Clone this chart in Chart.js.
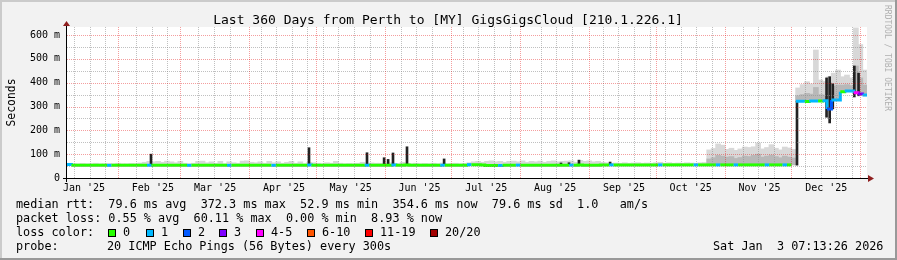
<!DOCTYPE html>
<html>
<head>
<meta charset="utf-8">
<script src="https://cdn.jsdelivr.net/npm/chart.js@4/dist/chart.umd.min.js"></script>
<style>
  body { margin: 0; background: #f2f2f2; }
  canvas { display: block; }
</style>
</head>
<body>
<canvas id="ping" width="897" height="260"></canvas>
<script>
// x axis is in days since the start of the 360 day window, y is milliseconds
var monthLabels = ["Jan '25", "Feb '25", "Mar '25", "Apr '25", "May '25", "Jun '25",
                   "Jul '25", "Aug '25", "Sep '25", "Oct '25", "Nov '25", "Dec '25"];
var monthStartDay = [-8.05, 22.95, 50.95, 81.95, 111.95, 142.95, 172.95,
                     203.95, 234.95, 264.95, 295.95, 325.95, 356.95];
var yTicks = [0, 100, 200, 300, 400, 500, 600];

// one value per 2 day slot (180 slots)
var median = [
  57,54,53,53,53,53,53,53,53,53, 53,53,53,53,53,53,53,53,53,54,
  53,53,53,53,53,53,53,53,53,53, 53,53,53,53,53,53,53,53,53,53,
  53,53,53,54,53,53,53,53,53,53, 53,53,53,53,55,53,53,53,53,53,
  53,53,53,53,53,53,53,54,53,53, 53,54,54,55,53,53,55,53,53,53,
  53,53,53,53,54,53,53,53,53,54, 56,56,56,55,52,52,52,52,53,54,
  54,54,54,54,54,54,54,54,54,54, 54,54,54,54,54,55,54,54,54,54,
  55,55,55,55,55,55,55,55,55,55, 55,55,55,55,55,55,55,55,55,55,
  55,55,55,55,55,55,55,55,55,55, 55,55,55,55,55,55,55,55,55,55,
  55,55,55,55,322,322,321,323,323,323, 324,290,327,327,362,365,365,358,352,348
];
var smokeTop = [
  62,60,60,61,60,60,62,60,60,61, 60,62,60,60,61,60,63,66,70,68,
  70,66,71,68,64,70,62,60,62,70, 71,64,68,62,70,60,68,64,62,71,
  72,66,64,68,62,70,64,68,62,66, 70,62,68,60,66,64,62,60,64,62,
  70,62,60,61,60,62,66,60,63,62, 62,60,64,62,60,66,62,60,62,60,
  61,60,62,60,63,60,61,62,60,61, 64,68,70,66,70,72,68,70,66,70,
  71,68,72,66,70,68,71,66,70,72, 68,70,71,72,66,74,70,72,68,70,
  66,64,62,63,62,64,62,63,64,62, 63,62,64,66,62,64,62,63,62,64,
  63,62,64,65,118,124,143,138,120,125, 116,122,130,128,131,147,122,128,140,125,
  118,130,126,120,378,392,404,395,537,411, 405,425,440,453,425,432,420,630,560,453
];
// denser smoke close to the median, from slot 144 on
var coreFrom = 144;
var coreTop = [
  80,85,95,92,88,90,82,86,92,90, 95,100,88,92,96,90,85,92,88,84,
  345,350,355,352,380,350,348,400,385,390, 390,392,388,470,420,390
];
// narrow dark spikes
var spikeDay  = [37.8, 108.9, 135.0, 142.7, 144.5, 146.7, 153.0, 169.7, 222.3, 225.9, 230.4, 244.4,
                 328.5, 341.8, 343.2, 344.6, 354.3, 356.2];
var spikeLow  = [56, 56, 56, 56, 56, 56, 56, 56, 56, 56, 56, 56, 54, 255, 231, 290, 340, 345];
var spikeHigh = [100, 127, 106, 85, 78, 105, 131, 80, 63, 64, 75, 67, 322, 420, 425, 395, 470, 440];

// slots with packet loss (index into lossColors), all others are 0
var lossSlot  = [0, 9, 18, 27, 36, 46, 54, 67, 73, 84, 90, 97, 101, 113, 122, 133, 141, 146, 150, 157, 161,
                 164, 165, 167, 168, 170, 171, 172, 173, 175, 176, 177, 178, 179];
var lossLevel = [1, 1, 1, 1, 1, 1, 1, 1, 1, 1, 1, 1, 1, 1, 1, 1, 1, 1, 1, 1, 1,
                 1, 1, 1, 1, 1, 2, 1, 1, 1, 1, 4, 3, 1];
var lossNames  = ['0', '1', '2', '3', '4-5', '6-10', '11-19', '20/20'];
var lossColors = ['#26ff00', '#00b8ff', '#0059ff', '#7e00ff', '#ff00ff', '#ff5500', '#ff0000', '#a10000'];

var SLOT = 2;
var MONO = '"DejaVu Sans Mono"';

var loss = median.map(function () { return 0; });
lossSlot.forEach(function (s, i) { loss[s] = lossLevel[i]; });

var smokeData = smokeTop.map(function (top, i) {
  return {x: i * SLOT + SLOT / 2, y: [median[i], top]};
});
var coreData = coreTop.map(function (top, i) {
  var s = coreFrom + i;
  return {x: s * SLOT + SLOT / 2, y: [median[s], top]};
});
var spikeData = spikeDay.map(function (d, i) {
  return {x: d, y: [spikeLow[i], spikeHigh[i]]};
});
var medianData = median.map(function (v, i) { return {x: i * SLOT, y: v}; });
medianData.push({x: median.length * SLOT, y: median[median.length - 1]});

// background, rrdtool style grid (drawn over the data), axes and all the text
var rrdLook = {
  id: 'rrdLook',
  beforeDraw: function (chart) {
    var ctx = chart.ctx, a = chart.chartArea, W = chart.width, H = chart.height;
    ctx.save();
    ctx.fillStyle = '#f2f2f2';
    ctx.fillRect(0, 0, W, H);
    ctx.fillStyle = '#cbcbcb';
    ctx.fillRect(0, 0, W, 2);
    ctx.fillRect(0, 0, 2, H);
    ctx.fillStyle = '#999999';
    ctx.fillRect(0, H - 2, W, 2);
    ctx.fillRect(W - 2, 0, 2, H);
    ctx.fillStyle = '#ffffff';
    ctx.fillRect(a.left, a.top, a.right - a.left, a.bottom - a.top);
    ctx.restore();
  },
  afterDatasetsDraw: function (chart) {
    var ctx = chart.ctx, a = chart.chartArea;
    var sx = chart.scales.x, sy = chart.scales.y;
    ctx.save();
    ctx.lineWidth = 1;
    ctx.setLineDash([1, 1]);

    function vline(day, color) {
      var px = Math.round(sx.getPixelForValue(day)) + 0.5;
      if (px < a.left + 1 || px > a.right) return;
      ctx.strokeStyle = color;
      ctx.beginPath(); ctx.moveTo(px, a.top); ctx.lineTo(px, a.bottom); ctx.stroke();
    }
    function hline(v, color) {
      var py = Math.round(sy.getPixelForValue(v)) + 0.5;
      ctx.strokeStyle = color;
      ctx.beginPath(); ctx.moveTo(a.left, py); ctx.lineTo(a.right, py); ctx.stroke();
    }

    // weekly minor lines, skipped next to a month line
    for (var d = 3.15; d < 360; d += 7) {
      var near = monthStartDay.some(function (m) { return Math.abs(m - d) < 2.5; });
      if (!near) vline(d, 'rgba(140,140,140,0.55)');
    }
    for (var v = 50; v <= 600; v += 100) hline(v, 'rgba(140,140,140,0.55)');
    monthStartDay.forEach(function (m) { vline(m, 'rgba(225,0,0,0.38)'); });
    for (v = 100; v <= 600; v += 100) hline(v, 'rgba(225,0,0,0.38)');

    // axes with arrows
    ctx.setLineDash([]);
    ctx.strokeStyle = '#000000';
    var ax = a.left - 0.5, ay = a.bottom + 0.5;
    ctx.beginPath(); ctx.moveTo(ax, ay + 3.5); ctx.lineTo(ax, a.top - 1); ctx.stroke();
    ctx.beginPath(); ctx.moveTo(a.left - 4, ay); ctx.lineTo(a.right + 2, ay); ctx.stroke();
    ctx.fillStyle = '#8f1f1f';
    ctx.beginPath();
    ctx.moveTo(ax - 3.5, a.top - 1); ctx.lineTo(ax + 3.5, a.top - 1); ctx.lineTo(ax, a.top - 6);
    ctx.closePath(); ctx.fill();
    ctx.beginPath();
    ctx.moveTo(a.right + 1, ay - 3.5); ctx.lineTo(a.right + 1, ay + 3.5); ctx.lineTo(a.right + 7, ay);
    ctx.closePath(); ctx.fill();
    ctx.restore();
  },
  afterDraw: function (chart) {
    var ctx = chart.ctx, a = chart.chartArea;
    ctx.save();
    ctx.fillStyle = '#000000';
    ctx.textBaseline = 'alphabetic';

    ctx.font = '13px ' + MONO;
    ctx.textAlign = 'center';
    ctx.fillText('Last 360 Days from Perth to [MY] GigsGigsCloud [210.1.226.1]', 448, 24);

    // y axis title
    ctx.save();
    ctx.font = '11.4px ' + MONO;
    ctx.translate(15, (a.top + a.bottom) / 2);
    ctx.rotate(-Math.PI / 2);
    ctx.fillText('Seconds', 0, 0);
    ctx.restore();

    // watermark on the right edge
    ctx.save();
    ctx.font = '8px ' + MONO;
    ctx.fillStyle = '#b0b0b0';
    ctx.textAlign = 'left';
    ctx.translate(885, 5);
    ctx.rotate(Math.PI / 2);
    ctx.fillText('RRDTOOL / TOBI OETIKER', 0, 0);
    ctx.restore();

    // legend block
    ctx.font = '11.8px ' + MONO;
    ctx.textAlign = 'left';
    ctx.fillText('median rtt:  79.6 ms avg  372.3 ms max  52.9 ms min  354.6 ms now  79.6 ms sd  1.0   am/s', 16, 208);
    ctx.fillText('packet loss: 0.55 % avg  60.11 % max  0.00 % min  8.93 % now', 16, 222);
    ctx.fillText('loss color:', 16, 236);
    var boxX = [108, 146, 183, 219, 256, 307, 365, 430];
    lossNames.forEach(function (name, i) {
      ctx.fillStyle = lossColors[i];
      ctx.fillRect(boxX[i], 229, 8, 8);
      ctx.strokeStyle = '#000000';
      ctx.lineWidth = 1;
      ctx.strokeRect(boxX[i] + 0.5, 229.5, 7, 7);
      ctx.fillStyle = '#000000';
      ctx.fillText(name, boxX[i] + 15, 236);
    });
    ctx.fillText('probe:', 16, 250);
    ctx.fillText('20 ICMP Echo Pings (56 Bytes) every 300s', 107, 250);
    ctx.fillText('Sat Jan  3 07:13:26 2026', 713, 250);
    ctx.restore();
  }
};

var ctx = document.getElementById('ping').getContext('2d');
var pingChart = new Chart(ctx, {
  type: 'bar',
  data: {
    datasets: [{
      type: 'line',
      label: 'median',
      data: medianData,
      order: 0,
      stepped: 'before',
      borderWidth: 3,
      borderCapStyle: 'butt',
      pointRadius: 0,
      fill: false,
      borderColor: lossColors[0],
      segment: {
        // the big step is drawn by the thin dark spike instead
        borderColor: function (c) {
          if (Math.abs(c.p1.parsed.y - c.p0.parsed.y) > 100) return 'rgba(0,0,0,0)';
          return lossColors[loss[c.p0DataIndex]] || lossColors[0];
        }
      }
    }, {
      label: 'spikes',
      data: spikeData,
      order: 1,
      grouped: false,
      barThickness: 2,
      backgroundColor: '#222222'
    }, {
      label: 'core smoke',
      data: coreData,
      order: 2,
      grouped: false,
      barThickness: 5,
      backgroundColor: '#b8b8b8'
    }, {
      label: 'smoke',
      data: smokeData,
      order: 3,
      grouped: false,
      barThickness: 5,
      backgroundColor: '#d8d8d8'
    }]
  },
  options: {
    responsive: false,
    devicePixelRatio: 1,
    animation: false,
    layout: { padding: { left: 0, top: 27, right: 30, bottom: 0 } },
    plugins: { legend: { display: false }, tooltip: { enabled: false }, title: { display: false } },
    scales: {
      x: {
        type: 'linear',
        min: 0,
        max: 360,
        offset: false,
        grid: { display: false, drawTicks: false },
        border: { display: false },
        afterFit: function (scale) { scale.height = 82; },
        afterBuildTicks: function (scale) {
          scale.ticks = monthStartDay.slice(0, monthLabels.length).map(function (d) { return {value: d + 15.7}; });
        },
        ticks: {
          autoSkip: false,
          maxRotation: 0,
          padding: 4,
          color: '#000000',
          font: { family: MONO, size: 10 },
          callback: function (v, i) { return monthLabels[i]; }
        }
      },
      y: {
        min: 0,
        max: 633.6,
        grid: { display: false, drawTicks: false },
        border: { display: false },
        afterFit: function (scale) { scale.width = 67; },
        afterBuildTicks: function (scale) {
          scale.ticks = yTicks.map(function (v) { return {value: v}; });
        },
        ticks: {
          padding: 7,
          color: '#000000',
          font: { family: MONO, size: 10 },
          callback: function (v) { return v === 0 ? '0' : v + ' m'; }
        }
      }
    }
  },
  plugins: [rrdLook]
});
</script>
</body>
</html>
